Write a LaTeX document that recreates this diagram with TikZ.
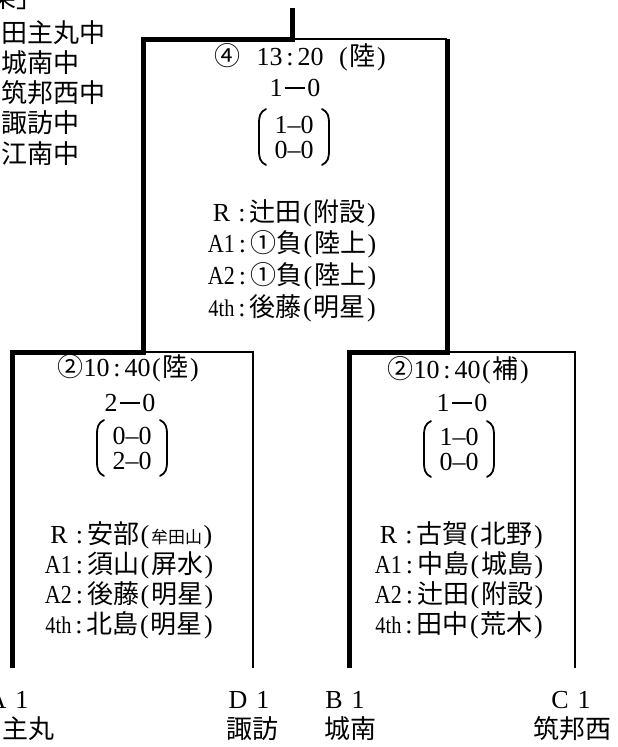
\documentclass[tikz,border=0pt]{standalone}
\usepackage{fontspec}
\setmainfont{Liberation Serif}
\newfontfamily\jpfont{Noto Sans CJK JP}
\newfontfamily\condfont[FakeStretch=0.85]{Liberation Serif}
\newcommand\jpn[1]{{\jpfont #1}}
\newcommand\cnd[1]{{\condfont #1}}
\newcommand\fth{{\fontsize{24}{24}\selectfont\condfont 4th}}
\newcommand\sdash{\kern2pt\rule[0.3em]{0.8em}{0.06em}\kern2pt}
\newcommand\fullR{\makebox[26pt]{R}}
\newcommand\cln{\makebox[15pt]{:}}
\newcommand\op{\makebox[12pt]{(}}
\newcommand\cp{\makebox[12pt]{)}}
% round brackets round a pair of set scores
\newcommand\pairbrackets[1]{%
  \draw[paren] ([shift={(-28,-28)}]#1.center) .. controls ([shift={(-34,-25)}]#1.center) and ([shift={(-35,-21)}]#1.center) .. ([shift={(-35,-13)}]#1.center)
    -- ([shift={(-35,13)}]#1.center) .. controls ([shift={(-35,21)}]#1.center) and ([shift={(-34,25)}]#1.center) .. ([shift={(-28,28)}]#1.center);
  \draw[paren] ([shift={(28,-28)}]#1.center) .. controls ([shift={(34,-25)}]#1.center) and ([shift={(35,-21)}]#1.center) .. ([shift={(35,-13)}]#1.center)
    -- ([shift={(35,13)}]#1.center) .. controls ([shift={(35,21)}]#1.center) and ([shift={(34,25)}]#1.center) .. ([shift={(28,28)}]#1.center);}

\begin{document}
\begin{tikzpicture}[x=1pt, y=-1pt,
    win/.style={line width=5pt, line join=miter},
    lose/.style={line width=2pt},
    paren/.style={line width=1.8pt, line cap=round},
    txt/.style={inner sep=0pt, font=\fontsize{26}{30}\selectfont},
    sets/.style={inner sep=0pt, align=center, font=\fontsize{26}{25}\selectfont},
    refs/.style={inner sep=0pt, align=center, anchor=north, font=\fontsize{26}{30}\selectfont}]
    \useasboundingbox (0,0) rectangle (618,747);

    % Bracket corners
    \coordinate (top) at (292,8);
    \coordinate (fin) at (292,39);
    \coordinate (finL) at (143,39);
    \coordinate (finR) at (447,39);
    \coordinate (sfL) at (143,352);
    \coordinate (sfR) at (447,352);
    \coordinate (aTop) at (12,352);
    \coordinate (dTop) at (253,352);
    \coordinate (bTop) at (349,352);
    \coordinate (cTop) at (575,352);
    \coordinate (aEnd) at (12,668);
    \coordinate (dEnd) at (253,668);
    \coordinate (bEnd) at (349,668);
    \coordinate (cEnd) at (575,668);

    % Winning paths
    \draw[win] (aEnd) -- (aTop) -- (sfL) -- (finL) -- (fin) -- (top);
    \draw[win] (bEnd) -- (bTop) -- (sfR) -- (finR);
    % Losing paths
    \draw[lose] (fin) -- (finR);
    \draw[lose] (sfL) -- (dTop) -- (dEnd);
    \draw[lose] (sfR) -- (cTop) -- (cEnd);

    % Results list (top left)
    \node[txt, anchor=base west] (head) at (-10,7) {\jpn{果」}};
    \node[txt, anchor=north west, align=left, font=\fontsize{26}{30.3}\selectfont] (rank) at (1,20)
        {\jpn{田主丸中}\\\jpn{城南中}\\\jpn{筑邦西中}\\\jpn{諏訪中}\\\jpn{江南中}};

    % Final
    \node[txt] (fhead) at (301,57) {\jpn{④}\hspace{16pt}13\cln 20\hspace{14pt}\op\jpn{陸}\cp};
    \node[txt] (fscore) at (295,88) {1\sdash 0};
    \node[sets] (fsets) at (294,137) {1–0\\0–0};
    \pairbrackets{fsets}
    \node[refs, font=\fontsize{26}{31.7}\selectfont] (fref) at (293,199) {\fullR\cln\jpn{辻田}\op\jpn{附設}\cp\\
        \cnd{A1}\cln\jpn{①負}\op\jpn{陸上}\cp\\
        \cnd{A2}\cln\jpn{①負}\op\jpn{陸上}\cp\\
        \fth\cln\jpn{後藤}\op\jpn{明星}\cp};

    % Semi-final A1 - D1
    \node[txt] (lhead) at (129,368) {\jpn{②}10\cln 40\op\jpn{陸}\cp};
    \node[txt] (lscore) at (130,403) {2\sdash 0};
    \node[sets] (lsets) at (132,448) {0–0\\2–0};
    \pairbrackets{lsets}
    \node[refs] (lref) at (130,521) {\fullR\cln\jpn{安部}\op\jpn{\fontsize{17}{17}\selectfont 牟田山}\cp\\
        \cnd{A1}\cln\jpn{須山}\op\jpn{屏水}\cp\\
        \cnd{A2}\cln\jpn{後藤}\op\jpn{明星}\cp\\
        \fth\cln\jpn{北島}\op\jpn{明星}\cp};

    % Semi-final B1 - C1
    \node[txt] (rhead) at (459,370) {\jpn{②}10\cln 40\op\jpn{補}\cp};
    \node[txt] (rscore) at (462,403) {1\sdash 0};
    \node[sets] (rsets) at (459,449) {1–0\\0–0};
    \pairbrackets{rsets}
    \node[refs] (rref) at (460,521) {\fullR\cln\jpn{古賀}\op\jpn{北野}\cp\\
        \cnd{A1}\cln\jpn{中島}\op\jpn{城島}\cp\\
        \cnd{A2}\cln\jpn{辻田}\op\jpn{附設}\cp\\
        \fth\cln\jpn{田中}\op\jpn{荒木}\cp};

    % Teams
    \node[txt] (a1) at (8,700) {A\hspace{9pt}1};
    \node[txt] (d1) at (249,700) {D\hspace{9pt}1};
    \node[txt] (b1) at (345,700) {B\hspace{9pt}1};
    \node[txt] (c1) at (571,700) {C\hspace{9pt}1};
    \node[txt] (aname) at (28,729) {\jpn{主丸}};
    \node[txt] (dname) at (252,729) {\jpn{諏訪}};
    \node[txt] (bname) at (350,729) {\jpn{城南}};
    \node[txt] (cname) at (572,729) {\jpn{筑邦西}};
\end{tikzpicture}
\end{document}
